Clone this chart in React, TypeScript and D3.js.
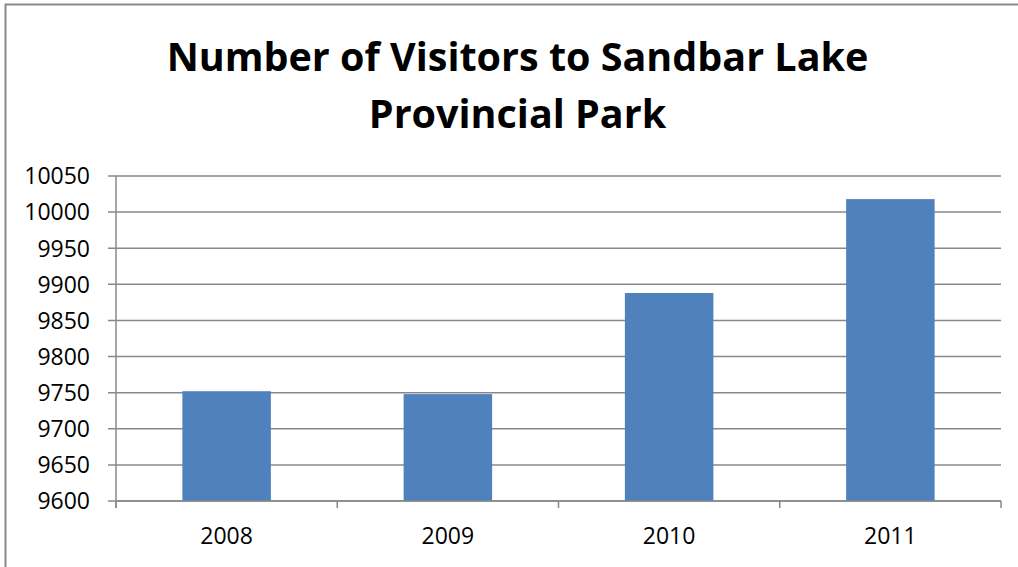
import React from "react";
import * as d3 from "d3";

const categories = ["2008", "2009", "2010", "2011"];
const visitors = [9752, 9748, 9888, 10018];
const yTicks = [9600, 9650, 9700, 9750, 9800, 9850, 9900, 9950, 10000, 10050];
const titleLines = ["Number of Visitors to Sandbar Lake", "Provincial Park"];

const W = 1018;
const H = 567;
const plot = { left: 116, right: 1001, top: 176, bottom: 501 };
const FONT = "'Open Sans', 'Noto Sans', sans-serif";
const GRID = "#888888";

export default function App() {
  const x = d3
    .scaleBand<string>()
    .domain(categories)
    .range([plot.left, plot.right])
    .paddingInner(0.6)
    .paddingOuter(0.3);
  const y = d3.scaleLinear().domain([9600, 10050]).range([plot.bottom, plot.top]);
  const band = (plot.right - plot.left) / categories.length;
  const catTicks = d3.range(categories.length + 1).map((i) => plot.left + i * band);

  return (
    <div style={{ position: "absolute", left: 0, top: 0 }}>
      <svg width={W} height={H} style={{ display: "block", background: "#fff" }}>
        <rect x={5.5} y={4.5} width={W + 20} height={H + 20} fill="#fff" stroke="#898989" strokeWidth={2} />
        {titleLines.map((t, i) => (
          <text
            key={t}
            x={517.5}
            y={71 + i * 57}
            textAnchor="middle"
            fontFamily={FONT}
            fontWeight="bold"
            fontSize={39.5}
            fill="#000"
          >
            {t}
          </text>
        ))}
        {yTicks.map((v) => (
          <g key={v}>
            <line x1={plot.left - 8} x2={plot.right} y1={y(v)} y2={y(v)} stroke={GRID} strokeWidth={1.5} />
            <text
              x={90}
              y={y(v)}
              dy="0.36em"
              textAnchor="end"
              fontFamily={FONT}
              fontSize={23}
              fill="#000"
            >
              {v}
            </text>
          </g>
        ))}
        {categories.map((c, i) => (
          <rect
            key={c}
            x={x(c)}
            y={y(visitors[i])}
            width={x.bandwidth()}
            height={y(9600) - y(visitors[i])}
            fill="#4F81BD"
          />
        ))}
        <line x1={plot.left} x2={plot.left} y1={plot.top} y2={plot.bottom + 7} stroke={GRID} strokeWidth={1.5} />
        <line x1={plot.left} x2={plot.right} y1={plot.bottom} y2={plot.bottom} stroke={GRID} strokeWidth={1.5} />
        {catTicks.map((t, i) => (
          <line key={i} x1={t} x2={t} y1={plot.bottom} y2={plot.bottom + 7} stroke={GRID} strokeWidth={1.5} />
        ))}
        {categories.map((c) => (
          <text
            key={c}
            x={(x(c) as number) + x.bandwidth() / 2}
            y={543.5}
            textAnchor="middle"
            fontFamily={FONT}
            fontSize={23}
            fill="#000"
          >
            {c}
          </text>
        ))}
      </svg>
    </div>
  );
}
